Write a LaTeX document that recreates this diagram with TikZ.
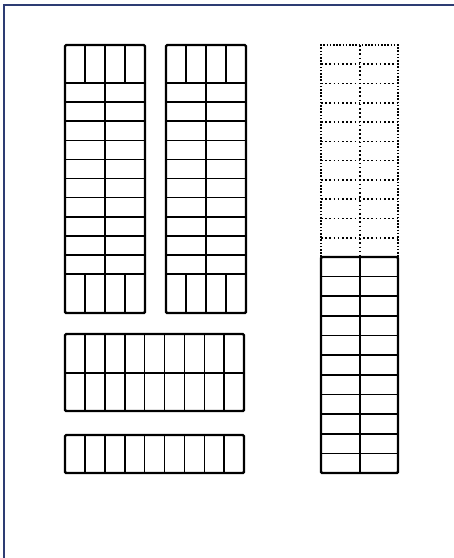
\documentclass[tikz,border=0pt]{standalone}
\usetikzlibrary{positioning}
\definecolor{framecol}{RGB}{45,60,115}
\begin{document}
\begin{tikzpicture}[
    x=1pt, y=-1pt,
    frame/.style={draw=framecol, line width=2pt},
    outer/.style={draw, line width=2.4pt, rounded corners=1.2pt},
    inner/.style={draw, line width=1.6pt},
    dotouter/.style={draw, line width=2.2pt, dash pattern=on 1.6pt off 1.6pt},
    dotinner/.style={draw, line width=1.6pt, dash pattern=on 1.6pt off 2.6pt}
  ]
  \useasboundingbox (0,0) rectangle (454,558);

  % ---- frame ----
  \draw[frame] (4,558) -- (4,5) -- (454,5);

  % ---- tall blocks ----
  \foreach \bx in {65,166} {
    % top and bottom cells
    \foreach \dx in {20,60} {
      \draw[inner] (\bx+\dx,45) -- (\bx+\dx,83);
      \draw[inner] (\bx+\dx,274) -- (\bx+\dx,313);
    }
    % middle line
    \draw[inner] (\bx+40,45) -- (\bx+40,313);
    % rows
    \foreach \i in {0,...,10}
      \draw[inner] (\bx,{83+19.1*\i}) -- (\bx+80,{83+19.1*\i});
    \draw[outer] (\bx,45) rectangle (\bx+80,313);
  }

  % ---- right column ----
  % dotted part
  \foreach \i in {1,...,10}
    \draw[dotinner] (321,{45+19.27*\i}) -- (398,{45+19.27*\i});
  \draw[dotinner] (360,45) -- (360,257);
  \draw[dotouter] (321,257) -- (321,45) -- (398,45) -- (398,257);
  % solid part
  \foreach \i in {1,...,10}
    \draw[inner] (321,{257+19.64*\i}) -- (398,{257+19.64*\i});
  \draw[inner] (360,257) -- (360,473);
  \draw[outer] (321,257) rectangle (398,473);

  % ---- wide blocks ----
  \foreach \i in {1,...,8} {
    \draw[inner] ({65+19.9*\i},334) -- ({65+19.9*\i},411);
    \draw[inner] ({65+19.9*\i},435) -- ({65+19.9*\i},473);
  }
  \draw[inner] (65,373) -- (244,373);
  \draw[outer] (65,334) rectangle (244,411);
  \draw[outer] (65,435) rectangle (244,473);
\end{tikzpicture}
\end{document}
